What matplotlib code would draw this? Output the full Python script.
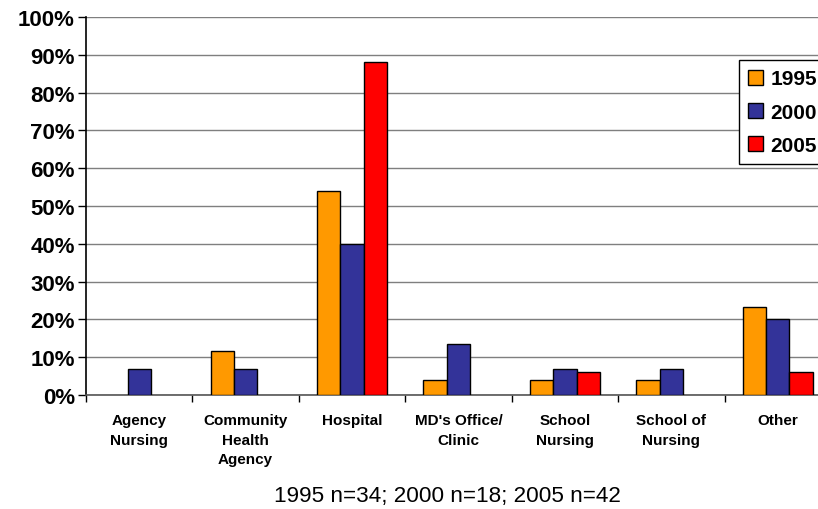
import matplotlib
matplotlib.use("Agg")
import matplotlib.pyplot as plt
import numpy as np
from matplotlib.patches import Patch

plt.rcParams['font.family'] = ['Liberation Sans', 'DejaVu Sans']

categories = ["Agency\nNursing", "Community\nHealth\nAgency", "Hospital", "MD's Office/\nClinic",
              "School\nNursing", "School of\nNursing", "Other"]
series_names = ["1995", "2000", "2005"]
v1995 = [0, 11.7, 53.9, 4.0, 4.0, 4.0, 23.3]
v2000 = [6.9, 6.9, 40.0, 13.4, 6.9, 6.9, 20.2]
v2005 = [0, 0, 88.2, 0, 6.2, 0, 6.2]
yticks = [0, 10, 20, 30, 40, 50, 60, 70, 80, 90, 100]
ytick_labels = ["0%", "10%", "20%", "30%", "40%", "50%", "60%", "70%", "80%", "90%", "100%"]
caption = "1995 n=34; 2000 n=18; 2005 n=42"
colors = ["#FF9900", "#333399", "#FF0000"]

W, H = 818, 510
fig = plt.figure(figsize=(W / 100, H / 100), dpi=100)
ax = fig.add_axes([86 / W, 1 - 396 / H, (831 - 86) / W, (396 - 18) / H])

x = np.arange(len(categories))
bw = 0.22
for i, vals in enumerate([v1995, v2000, v2005]):
    xs = x + (i - 1) * bw
    for xi, v in zip(xs, vals):
        if v > 0:
            ax.bar(xi, v, width=bw, color=colors[i], edgecolor="black", linewidth=1.0, zorder=3)

ax.set_xlim(-0.5, len(categories) - 0.5)
ax.set_ylim(0, 100)
ax.set_yticks(yticks)
ax.set_yticklabels(ytick_labels, fontsize=16, fontweight="bold")
ax.yaxis.grid(True, color="#7f7f7f", linewidth=1.0, zorder=0)
ax.set_axisbelow(True)

ax.set_xticks(x)
ax.set_xticklabels(categories, fontsize=11, fontweight="bold", linespacing=1.5, va="top")
ax.tick_params(axis="x", which="major", length=0, pad=13)
ax.set_xticks(np.arange(-0.5, len(categories), 1), minor=True)
ax.tick_params(axis="x", which="minor", length=5, width=1, color="black", direction="out")
ax.tick_params(axis="y", length=6, width=1, color="black", direction="out", pad=2)

for s in ["top", "right"]:
    ax.spines[s].set_visible(False)
ax.spines["left"].set_color("black")
ax.spines["left"].set_linewidth(1.2)
ax.spines["bottom"].set_color("#555555")
ax.spines["bottom"].set_linewidth(1.2)

handles = [Patch(facecolor=c, edgecolor="black", linewidth=1.0) for c in colors]
leg = fig.legend(handles, series_names, loc="upper left", bbox_to_anchor=(739 / W, 1 - 61 / H),
                 prop={"size": 15, "weight": "bold"}, frameon=True, fancybox=False,
                 edgecolor="black", framealpha=1, handlelength=0.72, handleheight=0.72,
                 handletextpad=0.34, labelspacing=0.68, borderpad=0.45, borderaxespad=0)
leg.get_frame().set_linewidth(1.0)

fig.text(447 / W, 1 - 497 / H, caption, ha="center", va="center", fontsize=16.2)

fig.savefig("out.png", dpi=100)
